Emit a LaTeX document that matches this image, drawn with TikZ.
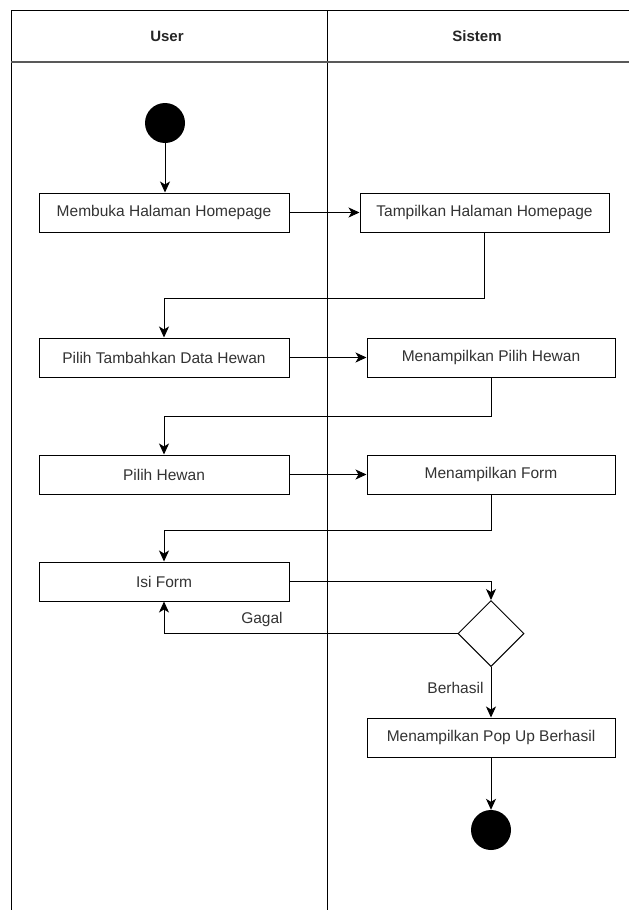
\documentclass[tikz,border=0pt]{standalone}
\usepackage{fontspec}
\setmainfont{Liberation Sans}
\usetikzlibrary{arrows.meta,shapes.geometric}
\begin{document}
\begin{tikzpicture}[x=1pt,y=-1pt,
  lane/.style={line width=1pt,draw=black},
  act/.style={draw=black,line width=1pt,fill=white,minimum width=250pt,minimum height=39pt,inner sep=0pt,font=\fontsize{15.5}{18}\selectfont,text=black!80},
  start/.style={circle,fill=black,minimum size=40pt,inner sep=0pt},
  decision/.style={diamond,draw=black,line width=1pt,fill=white,minimum width=66pt,minimum height=66pt,inner sep=0pt,aspect=1},
  flow/.style={line width=1pt,-{Stealth[length=11pt,width=10pt,inset=3pt]}},
  lbl/.style={font=\fontsize{15.5}{18}\selectfont,text=black!80},
  hdr/.style={font=\bfseries\fontsize{15}{18}\selectfont,text=black!85}]
\useasboundingbox (0,0) rectangle (629,910);
\fill[white] (0,0) rectangle (629,910);

% swimlanes
\draw[lane] (11,910) -- (11,10) -- (629,10);
\draw[lane] (327,10) -- (327,910);
\draw[line width=1.6pt,draw=black!65] (11,62) -- (629,62);
\node[hdr] (huser) at (167,36) {User};
\node[hdr] (hsys) at (477,36) {Sistem};

% nodes
\node[start] (init) at (165,123) {};
\node[act] (a1) at (164,212.5) {Membuka Halaman Homepage};
\node[act,minimum width=249pt] (a2) at (484.5,212.5) {Tampilkan Halaman Homepage};
\node[act] (a3) at (164,357.5) {Pilih Tambahkan Data Hewan};
\node[act,minimum width=248pt] (a4) at (491,357.5) {Menampilkan Pilih Hewan};
\node[act] (a5) at (164,474.5) {Pilih Hewan};
\node[act,minimum width=248pt] (a6) at (491,474.5) {Menampilkan Form};
\node[act] (a7) at (164,581.5) {Isi Form};
\node[decision] (d) at (491,633.5) {};
\node[act,minimum width=248pt] (a8) at (491,737.5) {Menampilkan Pop Up Berhasil};
\node[start] (final) at (491,830) {};

% connectors
\draw[flow] (init) -- (init |- a1.north);
\draw[flow] (a1) -- (a2);
\draw[flow] (a2.south) -- (a2.south |- 0,298) -| (a3.north);
\draw[flow] (a3) -- (a4);
\draw[flow] (a4.south) -- (a4.south |- 0,416) -| (a5.north);
\draw[flow] (a5) -- (a6);
\draw[flow] (a6.south) -- (a6.south |- 0,530) -| (a7.north);
\draw[flow] (a7.east) -| (d.north);
\draw[flow] (d.west) -| (a7.south);
\draw[flow] (d.south) -- (a8.north);
\draw[flow] (a8.south) -- (final.north);

% guard labels
\node[lbl] (gagal) at (262,619) {Gagal};
\node[lbl,anchor=east] (berhasil) at (487,688) {Berhasil};
\end{tikzpicture}
\end{document}
